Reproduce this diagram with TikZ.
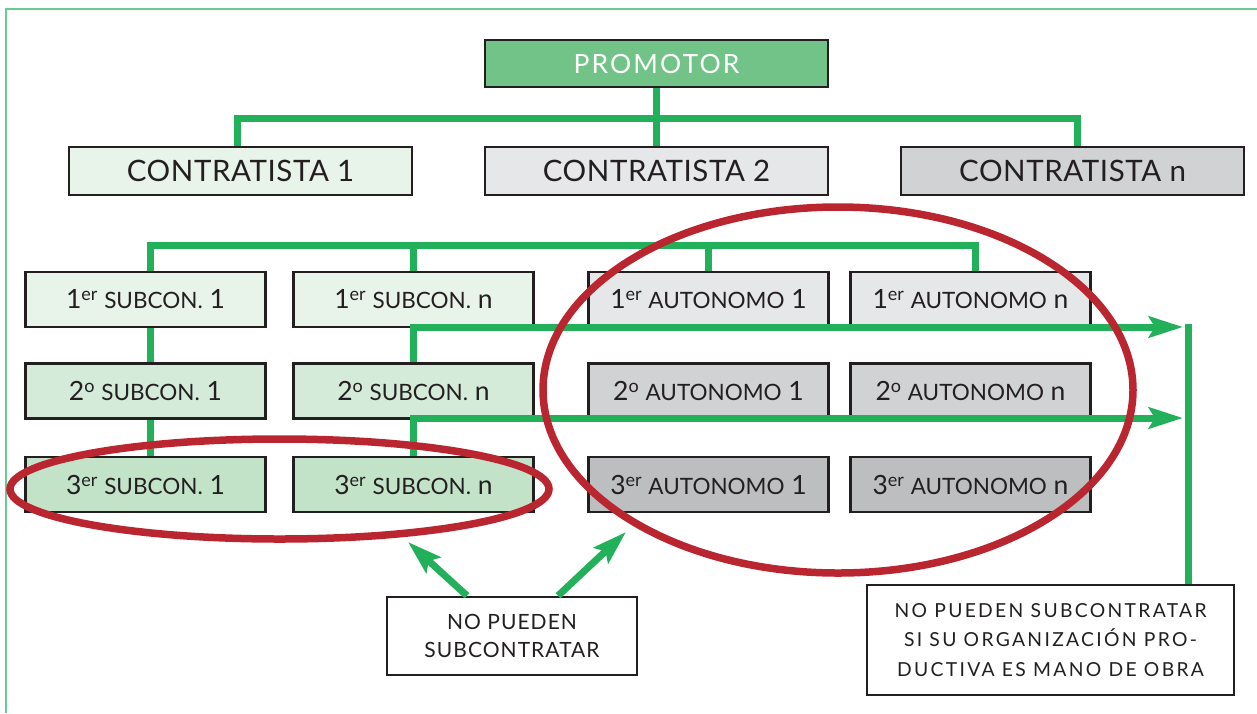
\documentclass[tikz,border=0pt]{standalone}
\usetikzlibrary{arrows.meta}
\usepackage{fontspec}
\setmainfont{Lato}
\definecolor{promfill}{HTML}{72C387}
\definecolor{lgA}{HTML}{E8F4EA}
\definecolor{lgB}{HTML}{D5EBD9}
\definecolor{lgC}{HTML}{C3E3C9}
\definecolor{grA}{HTML}{E6E7E8}
\definecolor{grB}{HTML}{D1D2D4}
\definecolor{grC}{HTML}{BCBEC0}
\definecolor{gline}{HTML}{22B15A}
\definecolor{redl}{HTML}{BA2630}
\definecolor{framec}{HTML}{6ACB92}
\definecolor{txt}{HTML}{231F20}
\newcommand{\fs}[1]{\fontsize{#1}{#1}\selectfont}
\newcommand{\supr}[1]{\raisebox{8pt}{\fs{18}#1}}
\newcommand{\smc}[1]{{\fs{22.5}#1}}
\tikzset{
  box/.style={draw=txt, line width=2.5pt, inner sep=0pt, text=txt, anchor=center},
  bigbox/.style={box, minimum width=343pt, minimum height=48pt, font=\fs{29.5}\addfontfeatures{LetterSpace=2}},
  rowbox/.style={box, minimum width=240pt, minimum height=55pt, font=\fs{26.5}},
  notebox/.style={box, fill=white, align=center},
  grn/.style={draw=gline, line width=7pt, line join=miter},
  garrow/.style={grn, -{Stealth[length=34pt 0, width=21pt 0, inset=6pt 0]}},
  redring/.style={draw=redl, line width=7.5pt},
}
\begin{document}
\begin{tikzpicture}[x=1pt, y=-1pt]
\fill[white] (0,0) rectangle (1257,713);
\useasboundingbox (0,0) rectangle (1257,713);
\draw[framec, line width=2pt] (6,713) -- (6,9) -- (1257,9);

% top level
\node[bigbox, fill=promfill, minimum height=47pt, font=\fs{26.5}\addfontfeatures{LetterSpace=8}, text=white] (prom) at (656.5,63.5) {PROMOTOR};
\node[bigbox, fill=lgA] (c1) at (240.5,171) {CONTRATISTA 1};
\node[bigbox, fill=grA] (c2) at (656.5,171) {CONTRATISTA 2};
\node[bigbox, fill=grB] (cn) at (1072.5,171) {CONTRATISTA n};

% rows
\node[rowbox, fill=lgA] (A1) at (145.5,299.5) {1\supr{er} \smc{SUBCON.} 1};
\node[rowbox, fill=lgA] (B1) at (413.5,299.5) {1\supr{er} \smc{SUBCON.} n};
\node[rowbox, fill=grA] (C1) at (708.5,299.5) {1\supr{er} \smc{AUTONOMO} 1};
\node[rowbox, fill=grA] (D1) at (970.5,299.5) {1\supr{er} \smc{AUTONOMO} n};

\node[rowbox, fill=lgB] (A2) at (145.5,391) {2\supr{o} \smc{SUBCON.} 1};
\node[rowbox, fill=lgB] (B2) at (413.5,391) {2\supr{o} \smc{SUBCON.} n};
\node[rowbox, fill=grB] (C2) at (708.5,391) {2\supr{o} \smc{AUTONOMO} 1};
\node[rowbox, fill=grB] (D2) at (970.5,391) {2\supr{o} \smc{AUTONOMO} n};

\node[rowbox, fill=lgC] (A3) at (145.5,484.5) {3\supr{er} \smc{SUBCON.} 1};
\node[rowbox, fill=lgC] (B3) at (413.5,484.5) {3\supr{er} \smc{SUBCON.} n};
\node[rowbox, fill=grC] (C3) at (708.5,484.5) {3\supr{er} \smc{AUTONOMO} 1};
\node[rowbox, fill=grC] (D3) at (970.5,484.5) {3\supr{er} \smc{AUTONOMO} n};

% notes
\node[notebox, minimum width=250pt, minimum height=78pt, font=\fontsize{21}{28}\selectfont\addfontfeatures{LetterSpace=5}] (lnote) at (512,636) {NO PUEDEN\\SUBCONTRATAR};
\node[notebox, minimum width=367pt, minimum height=110pt, font=\fontsize{19.3}{29.5}\selectfont\addfontfeatures{LetterSpace=12}] (rnote) at (1050.5,640) {NO PUEDEN SUBCONTRATAR\\SI SU ORGANIZACIÓN PRO-\\DUCTIVA ES MANO DE OBRA};

% connectors level 1
\coordinate (bus1L) at (237,118);
\coordinate (bus1R) at (1077,118);
\draw[grn] (prom.south) -- (c2.north);
\draw[grn] (c1.north -| bus1L) -- (bus1L) -- (bus1R) -- (cn.north -| bus1R);

% connectors level 2
\coordinate (bus2L) at (150,245);
\coordinate (bus2R) at (975,245);
\draw[grn] (A1.north -| bus2L) -- (bus2L) -- (bus2R) -- (D1.north -| bus2R);
\draw[grn] (B1.north) -- (B1.north |- bus2L);
\draw[grn] (C1.north) -- (C1.north |- bus2L);
\draw[grn] (A1.south -| bus2L) -- (A2.north -| bus2L);
\draw[grn] (A2.south -| bus2L) -- (A3.north -| bus2L);

% arrows to the right
\coordinate (t1) at (1183,327);
\coordinate (t2) at (1183,418);
\coordinate (v1) at (1188,324);
\draw[garrow] (B2.north) |- (t1);
\draw[garrow] (B3.north) |- (t2);
\draw[grn] (v1) -- (v1 |- rnote.north);

% arrows from left note
\coordinate (p1) at (408,542);
\coordinate (p2) at (626,532);
\draw[garrow] ([xshift=-45pt]lnote.north) -- (p1);
\draw[garrow] ([xshift=46pt]lnote.north) -- (p2);

% red ellipses
\draw[redring] (279.5,489) ellipse [x radius=269.5pt, y radius=50pt];
\draw[redring] (838,390) ellipse [x radius=295pt, y radius=183pt];
\end{tikzpicture}
\end{document}
